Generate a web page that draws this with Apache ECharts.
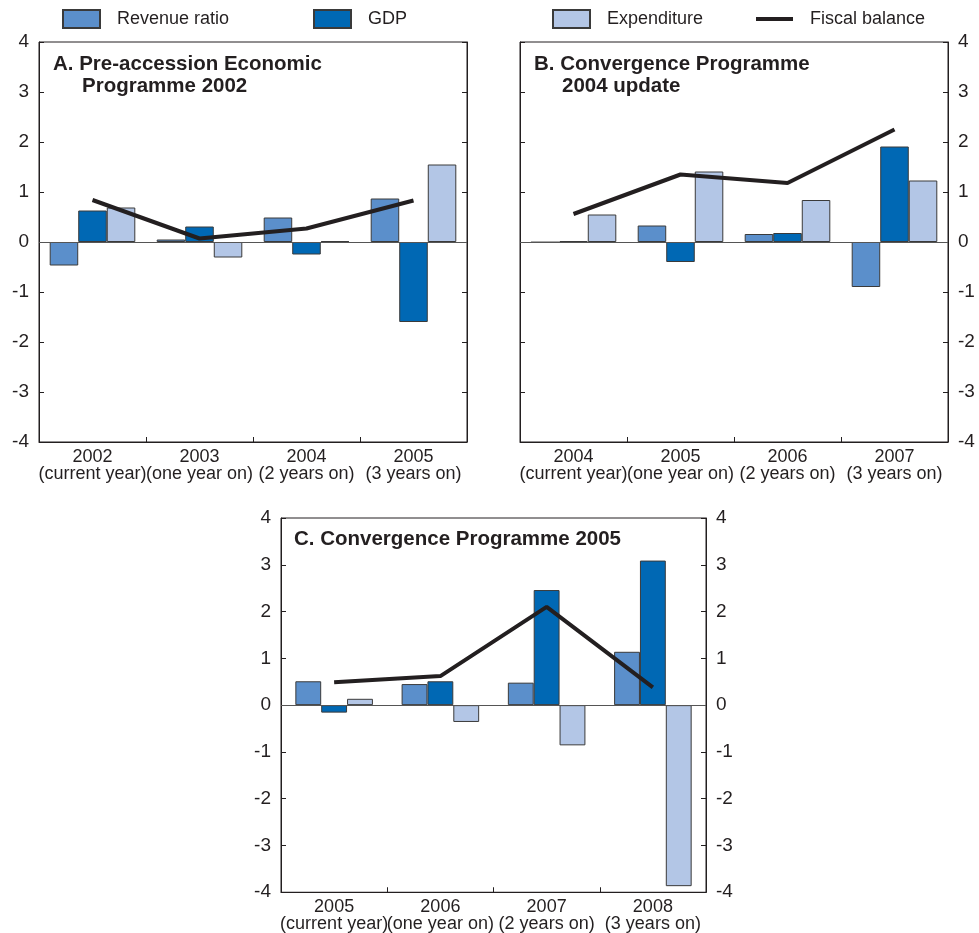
<!DOCTYPE html>
<html>
<head>
<meta charset="utf-8">
<script src="https://cdn.jsdelivr.net/npm/echarts@6/dist/echarts.min.js"></script>
<style>
  html, body { margin: 0; padding: 0; background: #fff; }
  #chart { width: 979px; height: 933px; }
</style>
</head>
<body>
<div id="chart"></div>
<script>
// Horizon labels shared by all three panels
const periods = ['(current year)', '(one year on)', '(2 years on)', '(3 years on)'];

// Panel A: Pre-accession Economic Programme 2002
const yearsA = ['2002', '2003', '2004', '2005'];
const revenueA = [-0.47, 0.05, 0.49, 0.87];
const gdpA = [0.63, 0.31, -0.25, -1.6];
const expenditureA = [0.69, -0.31, 0.02, 1.55];
const fiscalA = [0.84, 0.07, 0.27, 0.83];

// Panel B: Convergence Programme 2004 update
const yearsB = ['2004', '2005', '2006', '2007'];
const revenueB = [-0.01, 0.33, 0.16, -0.9];
const gdpB = [0.02, -0.4, 0.18, 1.91];
const expenditureB = [0.55, 1.41, 0.84, 1.23];
const fiscalB = [0.56, 1.35, 1.18, 2.25];

// Panel C: Convergence Programme 2005
const yearsC = ['2005', '2006', '2007', '2008'];
const revenueC = [0.51, 0.45, 0.48, 1.14];
const gdpC = [-0.16, 0.51, 2.46, 3.09];
const expenditureC = [0.135, -0.36, -0.86, -3.87];
const fiscalC = [0.49, 0.62, 2.1, 0.38];

const yTicks = [-4, -3, -2, -1, 0, 1, 2, 3, 4];

const FONT = '"Liberation Sans", Arial, Helvetica, sans-serif';
const INK = '#231f20';
const BORDER = '#3a3a3a';
const C_REV = '#5b8fcb';
const C_GDP = '#0068b4';
const C_EXP = '#b3c6e6';

function yAxis(gridIndex, position, showLabel) {
  return {
    type: 'value', gridIndex: gridIndex, position: position,
    min: yTicks[0], max: yTicks[yTicks.length - 1], interval: 1,
    axisLine: { show: true, lineStyle: { color: INK, width: 1 } },
    axisTick: { show: true, inside: true, length: 5, lineStyle: { color: INK } },
    axisLabel: { show: showLabel, color: INK, fontSize: 19, fontFamily: FONT, margin: 10 },
    splitLine: { show: false }
  };
}

function xAxis(gridIndex, years) {
  return {
    type: 'category', gridIndex: gridIndex, data: years, position: 'bottom',
    axisLine: { onZero: false, lineStyle: { color: INK, width: 1 } },
    axisTick: { show: true, inside: true, length: 5, lineStyle: { color: INK } },
    axisLabel: {
      interval: 0,
      color: INK, fontSize: 18, fontFamily: FONT, margin: 7, lineHeight: 16.5,
      formatter: function (v, i) { return v + '\n' + periods[i]; }
    }
  };
}

function panelSeries(idx, rev, gdp, exp, fiscal, gap) {
  const barBase = {
    type: 'bar', xAxisIndex: idx, yAxisIndex: idx * 2,
    barGap: 0, barCategoryGap: gap
  };
  return [
    Object.assign({}, barBase, {
      name: 'Revenue ratio', data: rev,
      itemStyle: { color: C_REV, borderColor: BORDER, borderWidth: 1 },
      markLine: {
        silent: true, symbol: 'none', label: { show: false },
        lineStyle: { color: '#555', width: 1, type: 'solid' },
        data: [{ yAxis: 0 }]
      }
    }),
    Object.assign({}, barBase, {
      name: 'GDP', data: gdp,
      itemStyle: { color: C_GDP, borderColor: BORDER, borderWidth: 1 }
    }),
    Object.assign({}, barBase, {
      name: 'Expenditure', data: exp,
      itemStyle: { color: C_EXP, borderColor: BORDER, borderWidth: 1 }
    }),
    {
      type: 'line', name: 'Fiscal balance', xAxisIndex: idx, yAxisIndex: idx * 2,
      data: fiscal, symbol: 'none', z: 5,
      lineStyle: { color: INK, width: 4 }, itemStyle: { color: INK }
    }
  ];
}

function legendItem(name, left, isLine) {
  return {
    data: [{ name: name, icon: 'rect', itemStyle: isLine ? { color: INK, borderWidth: 0 } : undefined }],
    left: left, top: isLine ? 10 : 9, padding: 0,
    itemWidth: 37, itemHeight: isLine ? 4 : 18,
    textStyle: { color: INK, fontSize: 18, fontFamily: FONT, padding: [0, 0, 0, 12] },
    selectedMode: false
  };
}

function titleText(x, y, text) {
  return {
    type: 'text', left: x, top: y, silent: true,
    style: { text: text, fill: INK, font: 'bold 20.5px ' + FONT }
  };
}

const gridStyle = { show: true, borderColor: INK, borderWidth: 1, backgroundColor: 'transparent' };

const option = {
  animation: false,
  backgroundColor: '#fff',
  textStyle: { fontFamily: FONT },
  legend: [
    legendItem('Revenue ratio', 62, false),
    legendItem('GDP', 313, false),
    legendItem('Expenditure', 552, false),
    legendItem('Fiscal balance', 756, true)
  ],
  grid: [
    Object.assign({ left: 39, top: 42, width: 428, height: 400 }, gridStyle),
    Object.assign({ left: 520, top: 42, width: 428, height: 400 }, gridStyle),
    Object.assign({ left: 281, top: 518, width: 425, height: 375 }, gridStyle)
  ],
  xAxis: [xAxis(0, yearsA), xAxis(1, yearsB), xAxis(2, yearsC)],
  yAxis: [
    yAxis(0, 'left', true), yAxis(0, 'right', false),
    yAxis(1, 'left', false), yAxis(1, 'right', true),
    yAxis(2, 'left', true), yAxis(2, 'right', true)
  ],
  graphic: [
    titleText(53, 54, 'A. Pre-accession Economic'),
    titleText(82, 76, 'Programme 2002'),
    titleText(534, 54, 'B. Convergence Programme'),
    titleText(562, 76, '2004 update'),
    titleText(294, 529, 'C. Convergence Programme 2005')
  ],
  series: [].concat(
    panelSeries(0, revenueA, gdpA, expenditureA, fiscalA, '20%'),
    panelSeries(1, revenueB, gdpB, expenditureB, fiscalB, '20%'),
    panelSeries(2, revenueC, gdpC, expenditureC, fiscalC, '27%')
  )
};

const chart = echarts.init(document.getElementById('chart'), null, { renderer: 'canvas' });
chart.setOption(option);
</script>
</body>
</html>
